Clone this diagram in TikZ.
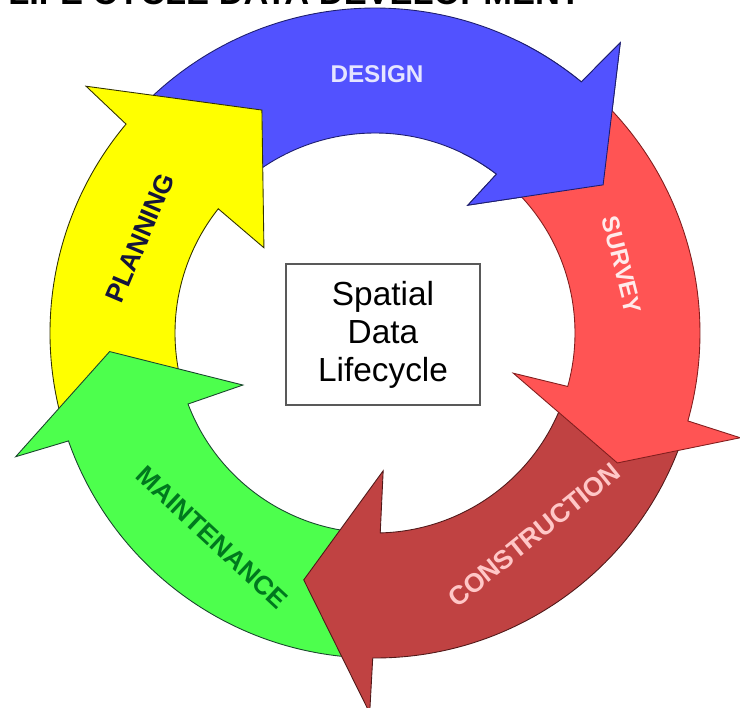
\documentclass[tikz,border=0pt]{standalone}
\usepackage{fontspec}
\setmainfont{Liberation Sans}
\definecolor{designfill}{RGB}{82,82,255}
\definecolor{designline}{RGB}{30,30,110}
\definecolor{surveyfill}{RGB}{255,84,84}
\definecolor{surveyline}{RGB}{130,30,30}
\definecolor{buildfill}{RGB}{192,66,66}
\definecolor{buildline}{RGB}{80,25,25}
\definecolor{carefill}{RGB}{77,255,77}
\definecolor{careline}{RGB}{25,70,45}
\definecolor{planfill}{RGB}{255,255,0}
\definecolor{planline}{RGB}{50,50,0}
\definecolor{caretext}{RGB}{0,120,30}
\definecolor{plantext}{RGB}{20,20,60}

\tikzset{
    ring/.style={line width=0.5pt, line join=miter},
    lbl/.style={font=\bfseries\fontsize{15}{15}\selectfont, inner sep=0pt},
    smalllbl/.style={lbl, font=\bfseries\fontsize{13.8}{14}\selectfont},
}

% #1 style, #2 tail, #3/#4 outer notch/barb, #5/#6 tip, #7/#8 inner barb, #9 inner notch
\newcommand{\ringarrow}[9]{%
    \path[ring,#1] (#2:200) -- (#2:325)
        arc[start angle=#2, end angle=#3, radius=325]
        -- (#4:380) -- (#5:#6) -- (#7:#8) -- (#9:200)
        arc[start angle=#9, end angle=#2, radius=200] -- cycle;
}

\begin{document}
\begin{tikzpicture}[x=0.02cm, y=0.02cm]
    \useasboundingbox[fill=white] (-375,-374) rectangle (365,333);

    \node[anchor=base west, inner sep=0pt, font=\bfseries\fontsize{19.6}{20}\selectfont]
        (title) at (-367,328) {LIFE CYCLE DATA DEVELOPMENT};

    \ringarrow{fill=designfill, draw=designline}{133}{50.6}{49.8}{33}{272}{54}{158}{52.6}
    \ringarrow{fill=planfill, draw=planline}{-165}{-220}{-220.5}{-243.1}{250}{-217.5}{140}{-218.4}
    \ringarrow{fill=carefill, draw=careline}{-94}{-160.6}{-161}{-176}{266}{-158.5}{142}{-159.2}
    \ringarrow{fill=buildfill, draw=buildline}{-20}{-90.4}{-90.8}{-106.1}{257}{-86.6}{138}{-88.5}
    \ringarrow{fill=surveyfill, draw=surveyline}{45}{-15.7}{-16}{-28.2}{275}{-16.2}{144}{-15.5}
    \begin{scope}
        \clip (0,0) -- (64:420) arc[start angle=64, end angle=20, radius=420] -- cycle;
        \ringarrow{fill=designfill, draw=designline}{133}{50.6}{49.8}{33}{272}{54}{158}{52.6}
    \end{scope}

    \node[smalllbl, text=white!90!blue] (design) at (2,259) {DESIGN};
    \node[smalllbl, text=white!92!red, rotate=-76] (survey) at (247,68) {SURVEY};
    \node[lbl, text=red!22!white, rotate=39] (construction) at (159,-202) {CONSTRUCTION};
    \node[lbl, text=caretext, rotate=-43] (maintenance) at (-163,-204) {MAINTENANCE};
    \node[lbl, text=plantext, rotate=67] (planning) at (-235,95) {PLANNING};

    \node[draw=black!65, line width=0.6pt, minimum width=3.88cm, minimum height=2.82cm,
        align=center, font=\fontsize{19}{21.6}\selectfont]
        (lifecycle) at (8,-1.5) {Spatial\\Data\\Lifecycle};
\end{tikzpicture}
\end{document}
